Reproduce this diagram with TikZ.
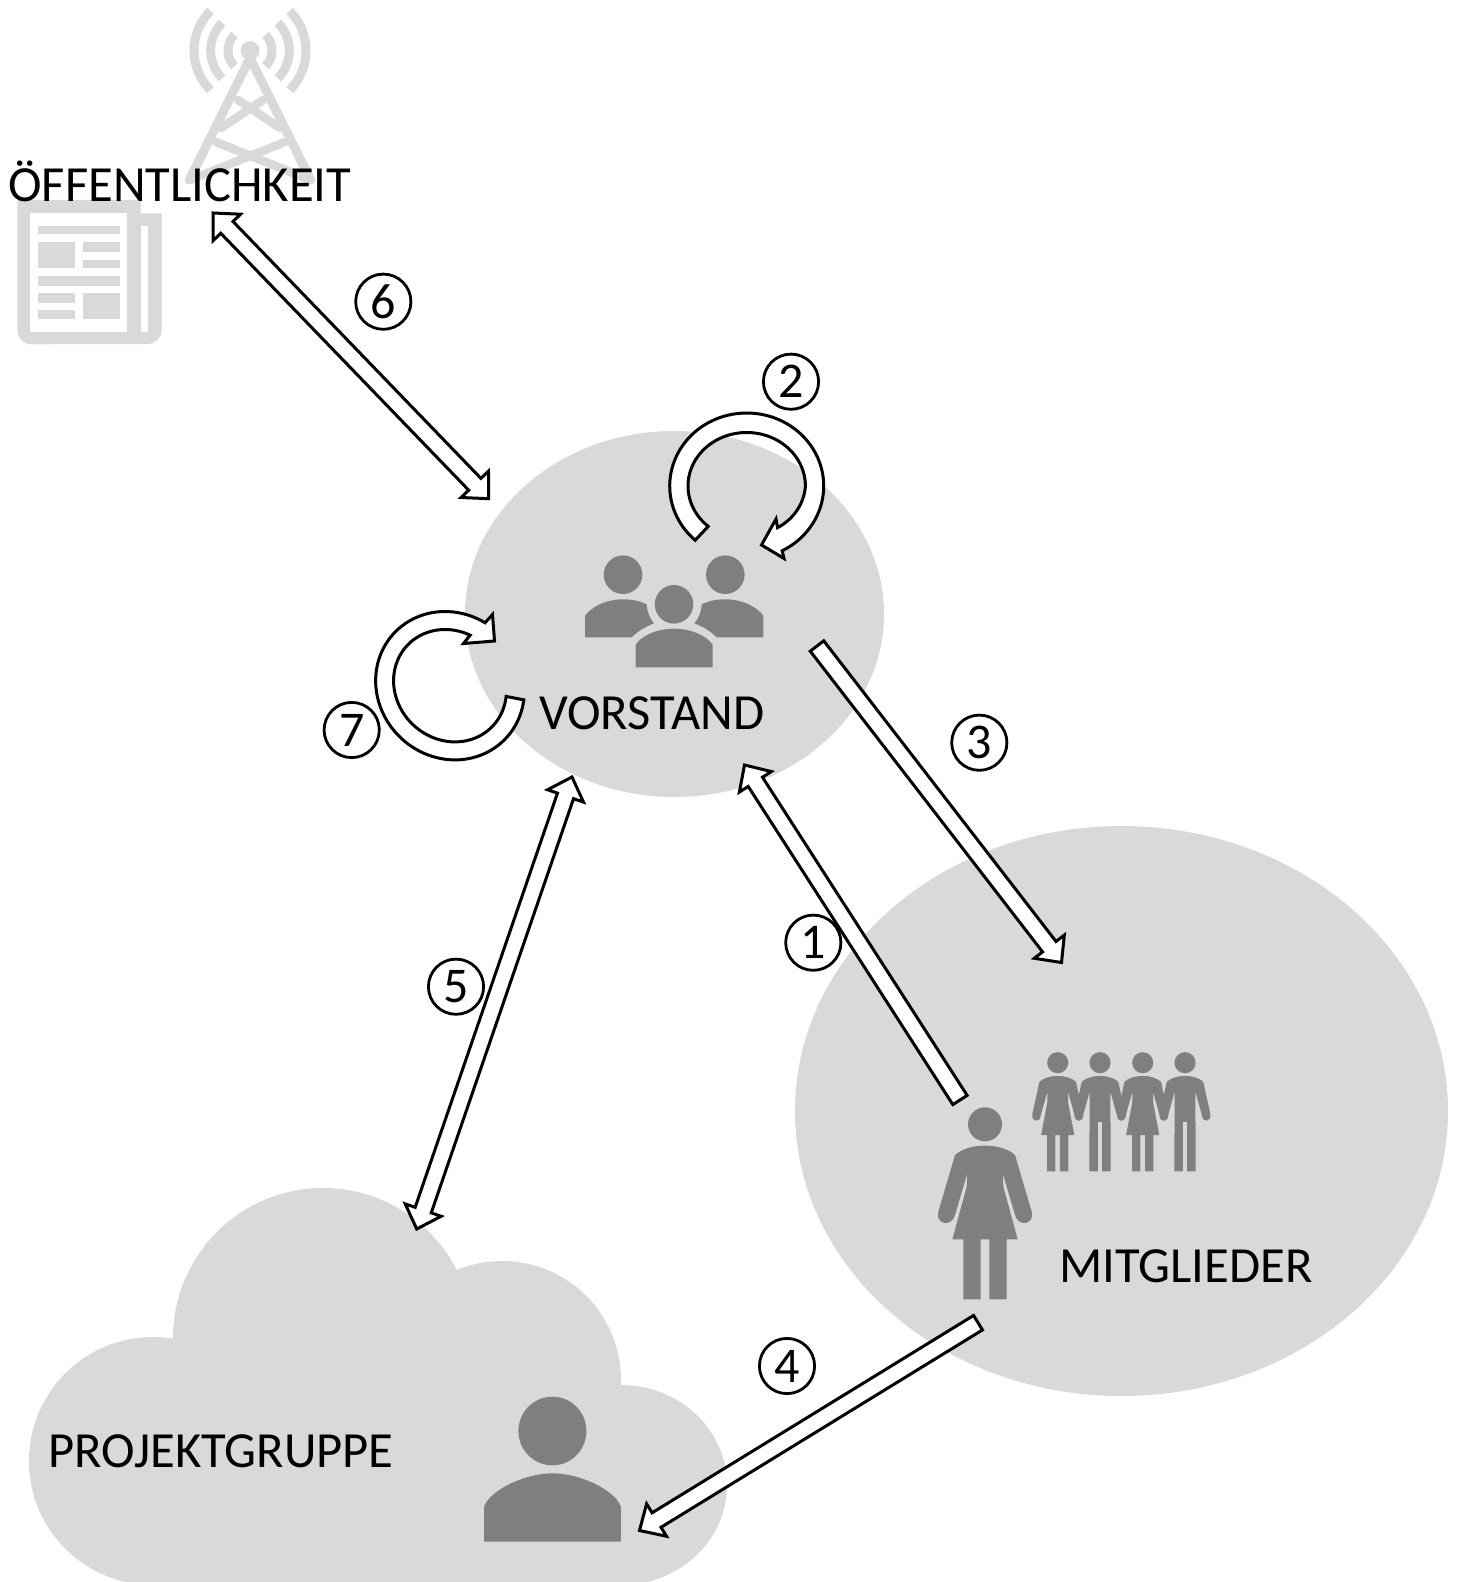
\documentclass[tikz,border=0pt]{standalone}
\usepackage{fontspec}
\setmainfont{Carlito}
\usetikzlibrary{calc,shapes.geometric}
\definecolor{lightg}{HTML}{D9D9D9}
\definecolor{darkg}{HTML}{7F7F7F}
\newcommand\shafthw{4.25pt}
\newcommand\headhw{9.5pt}
\newcommand\headlen{10pt}
\newcommand\singlearrow[2]{\draw[blockarrow] ($(#1)!\shafthw!90:(#2)$) -- ($(#2)!\headlen!(#1)!\shafthw!-90:(#1)$) -- ($(#2)!\headlen!(#1)!\headhw!-90:(#1)$) -- (#2) -- ($(#2)!\headlen!(#1)!\headhw!90:(#1)$) -- ($(#2)!\headlen!(#1)!\shafthw!90:(#1)$) -- ($(#1)!\shafthw!-90:(#2)$) -- cycle;}
\newcommand\doublearrow[2]{\draw[blockarrow] ($(#1)!\headlen!(#2)!\shafthw!90:(#2)$) -- ($(#2)!\headlen!(#1)!\shafthw!-90:(#1)$) -- ($(#2)!\headlen!(#1)!\headhw!-90:(#1)$) -- (#2) -- ($(#2)!\headlen!(#1)!\headhw!90:(#1)$) -- ($(#2)!\headlen!(#1)!\shafthw!90:(#1)$) -- ($(#1)!\headlen!(#2)!\shafthw!-90:(#2)$) -- ($(#1)!\headlen!(#2)!\headhw!-90:(#2)$) -- (#1) -- ($(#1)!\headlen!(#2)!\headhw!90:(#2)$) -- cycle;}
\newcommand\figupper{(0,64) .. controls (40,64) and (70,75) .. (90,92) -- (140,262) .. controls (150,300) and (100,310) .. (90,272) -- (53,147)}
\newcommand\figupperleft{(-53,147) -- (-90,272) .. controls (-100,310) and (-150,300) .. (-140,262) -- (-90,92) .. controls (-70,75) and (-40,64) .. (0,64)}
\newcommand\smallupper{(0,64) .. controls (40,64) and (68,75) .. (88,92) -- (122,245) .. controls (130,287) and (85,292) .. (82,255) -- (50,140)}
\newcommand\smallupperleft{(-50,140) -- (-82,255) .. controls (-85,292) and (-130,287) .. (-122,245) -- (-88,92) .. controls (-68,75) and (-40,64) .. (0,64)}
\newcommand\womanfig[3]{\begin{scope}[shift={(#1,#2)},scale=#3/3]
\fill[darkg] (0,0) circle[radius=51];
\fill[darkg] \figupper -- (55,187) -- (98,345) -- (65,345) -- (65,525) -- (13,525) -- (13,345) -- (-13,345) -- (-13,525) -- (-65,525) -- (-65,345) -- (-98,345) -- (-55,187) -- \figupperleft -- cycle;
\end{scope}}
\newcommand\smallwoman[3]{\begin{scope}[shift={(#1,#2)},scale=#3/3]
\fill[darkg] (0,0) circle[radius=51];
\fill[darkg] \smallupper -- (50,190) -- (80,349) -- (51.5,349) -- (51.5,525) -- (11,525) -- (11,349) -- (-11,349) -- (-11,525) -- (-51.5,525) -- (-51.5,349) -- (-80,349) -- (-50,190) -- \smallupperleft -- cycle;
\end{scope}}
\newcommand\smallman[3]{\begin{scope}[shift={(#1,#2)},scale=#3/3]
\fill[darkg] (0,0) circle[radius=51];
\fill[darkg] \smallupper -- (51.5,525) -- (10,525) -- (10,285) -- (-10,285) -- (-10,525) -- (-51.5,525) -- \smallupperleft -- cycle;
\end{scope}}
\tikzset{
  x=0.5pt,y=-0.5pt,
  blockarrow/.style={draw=black,fill=white,line width=1.5pt,miter limit=10,line join=miter},
  numcircle/.style={circle,draw=black,fill=white,line width=1.4pt,minimum size=27.6pt,inner sep=0pt,font=\fontsize{25}{30}\selectfont},
  label/.style={anchor=base west,inner sep=0pt,font=\fontsize{25.3}{30}\selectfont},
  towerline/.style={draw=lightg,line width=4.5pt,line cap=butt},
  towerbar/.style={draw=lightg,line width=4.3pt,line cap=round},
  gbar/.style={fill=lightg}
}
\begin{document}
\begin{tikzpicture}
\useasboundingbox (0,0) rectangle (1459,1582);
\clip (0,0) rectangle (1459,1582);
% blobs
\node[ellipse,fill=lightg,inner sep=0pt,minimum width=209.5pt,minimum height=183pt] (vorstandblob) at (674.5,614) {};
\node[ellipse,fill=lightg,inner sep=0pt,minimum width=326.5pt,minimum height=285pt] (mitgliederblob) at (1121.5,1111) {};
% cloud
\fill[lightg] (153,1461) circle[radius=124];
\fill[lightg] (323,1338) circle[radius=150];
\fill[lightg] (502,1380) circle[radius=119];
\fill[lightg] (621,1485) ellipse[x radius=106,y radius=100];
\fill[lightg] (175,1340) -- (455,1300) -- (502,1300) -- (600,1385) -- (621,1400) -- (621,1582) -- (150,1582) -- cycle;
% tower
\foreach \r in {22,39.3,56}{
  \draw[towerline] plot[domain=-45:45,samples=20] ({250+\r*cos(\x)},{50.5+\r*sin(\x)});
  \draw[towerline] plot[domain=135:225,samples=20] ({250+\r*cos(\x)},{50.5+\r*sin(\x)});
}
\fill[lightg] (250,50.7) circle[radius=9.5];
\draw[towerbar,line width=4.5pt,line join=round] (189.3,180) -- (250,58) -- (310.7,180);
\draw[towerbar] (238,100) -- (280,128);
\draw[towerbar] (263,100) -- (221,128);
\draw[towerbar] (216,142) -- (310,180);
\draw[towerbar] (285,142) -- (190,180);
% newspaper
\fill[lightg] (17.3,200) -- (140.7,200) -- (140.7,213.3) -- (161.7,213.3) -- (161.7,330) arc[start angle=0,end angle=90,radius=14] -- (31.3,344.3) arc[start angle=90,end angle=180,radius=14] -- cycle;
\fill[white] (30,213.3) rectangle (127.3,331.7);
\fill[white] (140.7,226) rectangle (148.3,331.7);
\fill[gbar] (38.3,226) rectangle (120,234.3);
\fill[gbar] (38.3,242.3) rectangle (74.7,268.3);
\fill[gbar] (82.7,242.3) rectangle (120,251.7);
\fill[gbar] (82.7,259.7) rectangle (120,268.3);
\fill[gbar] (38.3,276.3) rectangle (120,285.7);
\fill[gbar] (38.3,293.3) rectangle (74.7,302.7);
\fill[gbar] (38.3,310) rectangle (74.7,319.3);
\fill[gbar] (82.7,293.3) rectangle (120,319.3);
% group of three
\fill[darkg] (623,574.7) circle[radius=19.3];
\fill[darkg] (725.3,574.7) circle[radius=19.3];
\fill[darkg] (674,604.3) circle[radius=19.3];
\fill[darkg] (635.7,667.3) -- (635.7,645) .. controls (640,637) and (655,628.7) .. (674,628.7) .. controls (693,628.7) and (708,637) .. (712.7,645) -- (712.7,667.3) -- cycle;
\fill[darkg] (585,637.3) -- (585,616) .. controls (590,608) and (605,599.3) .. (623,599.3) .. controls (632,599.3) and (640,601) .. (646.7,604.3) .. controls (647,612) and (650,619) .. (654,623.3) .. controls (645,627) and (638,631) .. (631.7,637.3) -- cycle;
\fill[darkg] (763.4,637.3) -- (763.4,616) .. controls (758.4,608) and (743.4,599.3) .. (725.4,599.3) .. controls (716.4,599.3) and (708.4,601) .. (701.7,604.3) .. controls (701.4,612) and (698.4,619) .. (694.4,623.3) .. controls (703.4,627) and (710.4,631) .. (716.7,637.3) -- cycle;
% members
\womanfig{985}{1124.3}{1}
\smallwoman{1057.7}{1062.7}{0.6215}
\smallman{1100}{1062.7}{0.6215}
\smallwoman{1142.7}{1062.7}{0.6215}
\smallman{1185}{1062.7}{0.6215}
% project person
\fill[darkg] (552.4,1431) ellipse[x radius=34,y radius=34.3];
\fill[darkg] (484,1541.7) -- (484,1506.7) .. controls (490,1490) and (525,1473.3) .. (552.4,1473.3) .. controls (580,1473.3) and (615,1490) .. (620.9,1506.7) -- (620.9,1541.7) -- cycle;
% arrow ends
\coordinate (a1s) at (960,1100);
\coordinate (a1e) at (744.5,765);
\coordinate (a3s) at (817,646);
\coordinate (a3e) at (1061.5,962.5);
\coordinate (a4s) at (978,1322.7);
\coordinate (a4e) at (639.5,1530.5);
\coordinate (a5s) at (572,777);
\coordinate (a5e) at (416.7,1229);
\coordinate (a6s) at (213,213);
\coordinate (a6e) at (488.7,498.7);
\singlearrow{a1s}{a1e}
\singlearrow{a3s}{a3e}
\singlearrow{a4s}{a4e}
\doublearrow{a5s}{a5e}
\doublearrow{a6s}{a6e}
% curved arrow 2
\draw[blockarrow] plot[domain=132:422.6,samples=90] ({746.7+77*cos(\x)},{486+73*sin(\x)})
  -- (784,558.5) -- (761.5,545) -- (776,519)
  -- plot[domain=416:131,samples=90] ({746.7+58.7*(1-0.06*max(0,\x-360)/56)*cos(\x)},{486+53.5*(1-0.06*max(0,\x-360)/56)*sin(\x)}) -- cycle;
% curved arrow 7
\draw[blockarrow] plot[domain=11:302,samples=90] ({450+74.2*cos(\x)+5*sin(\x)},{685.7+74.2*sin(\x)})
  -- (492.5,614.5) -- (494.5,641) -- (463.5,643.5)
  -- plot[domain=296:11,samples=90] ({450+56.2*cos(\x)+5*sin(\x)},{685.7+56.2*sin(\x)}) -- cycle;
% numbers
\node[numcircle] (n1) at (813.3,942.7) {1};
\node[numcircle] (n2) at (791,381.7) {2};
\node[numcircle] (n3) at (979.3,742.7) {3};
\node[numcircle] (n4) at (787,1366) {4};
\node[numcircle] (n5) at (456,986.7) {5};
\node[numcircle] (n6) at (383.3,301.7) {6};
\node[numcircle] (n7) at (351.7,730) {7};
% labels
\node[label] (oeff) at (8,201.5) {ÖFFENTLICHKEIT};
\node[label] (vorstand) at (539,729) {VORSTAND};
\node[label] (mitglieder) at (1059,1282.5) {MITGLIEDER};
\node[label] (projekt) at (48,1467) {PROJEKTGRUPPE};
\end{tikzpicture}
\end{document}
